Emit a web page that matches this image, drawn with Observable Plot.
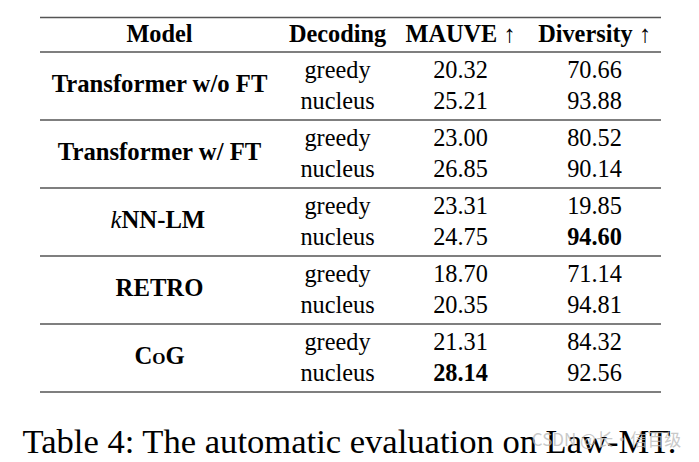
<!DOCTYPE html>
<html>
<head>
<meta charset="utf-8">
<script src="https://cdn.jsdelivr.net/npm/d3@7"></script>
<script src="https://cdn.jsdelivr.net/npm/@observablehq/plot@0.6"></script>
<style>
  html, body { margin: 0; padding: 0; background: #fff; }
  #chart svg { display: block; }
</style>
</head>
<body>
<div id="chart"></div>
<script>
// ---- data ----
const headers = ["Model", "Decoding", "MAUVE ↑", "Diversity ↑"];
const models = ["Transformer w/o FT", "Transformer w/ FT", "kNN-LM", "RETRO", "CoG"];
const decodings = ["greedy", "nucleus"];
const mauve = [20.32, 25.21, 23.00, 26.85, 23.31, 24.75, 18.70, 20.35, 21.31, 28.14];
const diversity = [70.66, 93.88, 80.52, 90.14, 19.85, 94.60, 71.14, 94.81, 84.32, 92.56];
const boldCells = [
  {model: "kNN-LM", decoding: "nucleus", metric: "Diversity"},
  {model: "CoG", decoding: "nucleus", metric: "MAUVE"}
];
const caption = "Table 4: The automatic evaluation on Law-MT.";
const watermark = "CSDN @长·信百级";

// ---- layout ----
const W = 699, H = 462;
const colX = [159, 337, 460, 594];
const headerY = 33.5;
const firstRowY = 69.5, rowGap = 31.5, groupGap = 68;
const modelY0 = 83.5;
const ruleX1 = 40, ruleX2 = 661;
const topRuleY = 17, firstRuleY = 51.5;
const serif = "Liberation Serif, Times New Roman, serif";
const fs = 24.3;
const fsModel = 24.7;

const rows = [];
models.forEach((m, g) => decodings.forEach((d, r) => {
  const i = g * 2 + r;
  rows.push({model: m, decoding: d, mauve: mauve[i], diversity: diversity[i], y: firstRowY + g * groupGap + r * rowGap});
}));
const isBold = (m, d, metric) => boldCells.some(b => b.model === m && b.decoding === d && b.metric === metric);

const cells = [];
rows.forEach(r => {
  cells.push({x: colX[1], y: r.y, text: r.decoding, bold: false});
  cells.push({x: colX[2], y: r.y, text: r.mauve.toFixed(2), bold: isBold(r.model, r.decoding, "MAUVE")});
  cells.push({x: colX[3], y: r.y, text: r.diversity.toFixed(2), bold: isBold(r.model, r.decoding, "Diversity")});
});
const modelCells = models.map((m, g) => ({model: m, x: colX[0], y: modelY0 + g * groupGap}));
const rules = [topRuleY].concat(d3.range(models.length + 1).map(g => firstRuleY + g * groupGap));

const plainModels = modelCells.filter(d => d.model !== "kNN-LM" && d.model !== "CoG");
const knn = modelCells.filter(d => d.model === "kNN-LM");
const cog = modelCells.filter(d => d.model === "CoG");

const chart = Plot.plot({
  width: W, height: H,
  margin: 0,
  x: {domain: [0, W], range: [0, W], axis: null},
  y: {domain: [0, H], range: [0, H], axis: null},
  marks: [
    Plot.ruleY(rules, {y: d => d, x1: ruleX1, x2: ruleX2, stroke: "#555", strokeWidth: 1.7}),
    Plot.text(headers, {x: (d, i) => colX[i], y: headerY, text: d => d, fontFamily: serif, fontSize: fs, fontWeight: "bold", fill: "#000"}),
    Plot.text(cells.filter(c => !c.bold), {x: "x", y: "y", text: "text", fontFamily: serif, fontSize: fs, fill: "#000"}),
    Plot.text(cells.filter(c => c.bold), {x: "x", y: "y", text: "text", fontFamily: serif, fontSize: fs, fontWeight: "bold", fill: "#000"}),
    Plot.text(plainModels, {x: "x", y: "y", text: "model", fontFamily: serif, fontSize: fsModel, fontWeight: "bold", fill: "#000"}),
    Plot.text(knn, {x: "x", y: "y", text: d => d.model.slice(0, 1), dx: -38, textAnchor: "end", fontFamily: serif, fontSize: fsModel, fontStyle: "italic", fill: "#000"}),
    Plot.text(knn, {x: "x", y: "y", text: d => d.model.slice(1), dx: -38, textAnchor: "start", fontFamily: serif, fontSize: fsModel, fontWeight: "bold", fill: "#000"}),
    Plot.text(cog, {x: "x", y: "y", text: "model", fontFamily: serif, fontSize: fsModel, fontWeight: "bold", fontVariant: "small-caps", fill: "#000"}),
    Plot.text([caption], {x: 349, y: 441, text: d => d, fontFamily: serif, fontSize: 34.6, fill: "#000"}),
    Plot.text([watermark], {x: 606, y: 440, text: d => d, fontFamily: "Noto Sans CJK SC, DejaVu Sans, sans-serif", fontSize: 17, fill: "#bbb", fillOpacity: 0.8})
  ]
});
document.getElementById("chart").appendChild(chart);
</script>
</body>
</html>
